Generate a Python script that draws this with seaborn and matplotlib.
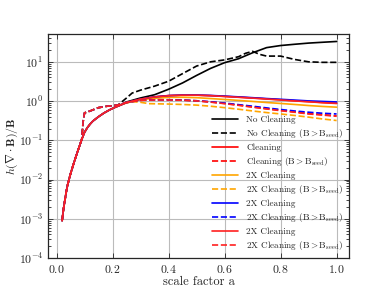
import numpy as np
import pandas as pd
import seaborn as sns
import matplotlib
matplotlib.use('Agg')
import matplotlib.pyplot as plt
from matplotlib.ticker import LogLocator, NullFormatter

# shared early growth (all runs identical before the seed cut)
a_early = [0.02, 0.025, 0.03, 0.035, 0.04, 0.05, 0.06, 0.07, 0.08, 0.09]
h_early = [9e-4, 1.8e-3, 3e-3, 5e-3, 7.5e-3, 0.014, 0.024, 0.04, 0.065, 0.105]

a_mid_solid = [0.1, 0.11, 0.12, 0.13, 0.15, 0.17, 0.19, 0.21, 0.23]
h_mid_solid = [0.16, 0.21, 0.26, 0.31, 0.4, 0.5, 0.6, 0.7, 0.8]

a_mid_dash = [0.095, 0.1, 0.12, 0.15, 0.18, 0.2, 0.22]
h_mid_dash = [0.3, 0.5, 0.56, 0.68, 0.74, 0.76, 0.8]

a_late = [0.25, 0.3, 0.35, 0.4, 0.45, 0.5, 0.55, 0.6, 0.65, 0.7, 0.75, 0.8,
          0.85, 0.9, 0.95, 1.0]
no_clean = [0.95, 1.2, 1.45, 2.0, 2.9, 4.5, 6.8, 9.5, 12, 17, 23, 26, 28, 30,
            31.5, 33]
clean = [0.92, 1.12, 1.28, 1.38, 1.42, 1.42, 1.38, 1.32, 1.26, 1.2, 1.14,
         1.08, 1.02, 0.97, 0.92, 0.88]
clean_seed = [0.92, 1.05, 1.08, 1.08, 1.06, 1.02, 0.95, 0.87, 0.79, 0.71,
              0.64, 0.58, 0.53, 0.48, 0.45, 0.42]
x2_orange = [0.9, 1.08, 1.18, 1.24, 1.25, 1.22, 1.16, 1.1, 1.04, 0.98, 0.92,
             0.87, 0.82, 0.77, 0.73, 0.7]
x2_blue = [0.92, 1.12, 1.28, 1.38, 1.42, 1.42, 1.39, 1.34, 1.28, 1.22, 1.16,
           1.11, 1.06, 1.01, 0.98, 0.95]
x2_red = [0.92, 1.12, 1.27, 1.37, 1.41, 1.41, 1.37, 1.31, 1.25, 1.19, 1.13,
          1.07, 1.01, 0.96, 0.91, 0.87]
x2_blue_seed = [0.92, 1.05, 1.08, 1.08, 1.06, 1.02, 0.96, 0.89, 0.81, 0.74,
                0.67, 0.61, 0.56, 0.52, 0.49, 0.47]
x2_red_seed = [0.92, 1.04, 1.07, 1.07, 1.05, 1.01, 0.94, 0.86, 0.78, 0.7,
               0.63, 0.57, 0.52, 0.47, 0.44, 0.41]

a_orange_seed = [0.25, 0.27, 0.3, 0.33, 0.4, 0.45, 0.5, 0.55, 0.6, 0.65, 0.7,
                 0.75, 0.8, 0.85, 0.9, 0.95, 1.0]
x2_orange_seed = [0.9, 0.97, 0.93, 0.86, 0.84, 0.82, 0.79, 0.74, 0.68, 0.62,
                  0.56, 0.51, 0.47, 0.43, 0.39, 0.35, 0.32]

a_black_seed = [0.25, 0.27, 0.3, 0.35, 0.4, 0.45, 0.5, 0.55, 0.6, 0.65,
                0.675, 0.7, 0.725, 0.75, 0.8, 0.85, 0.9, 0.95, 1.0]
no_clean_seed = [1.2, 1.6, 1.9, 2.4, 3.2, 5.0, 7.8, 10.0, 11.2, 13.5, 16.5,
                 18.5, 15.5, 14, 14, 11.5, 10, 9.7, 9.7]

seed = r'(B${>}$B$_{\rm seed}$)'
series = [
    ('No Cleaning', 'black', '-', a_late, no_clean),
    ('No Cleaning ' + seed, 'black', '--', a_black_seed, no_clean_seed),
    ('Cleaning', 'red', '-', a_late, clean),
    ('Cleaning ' + seed, 'red', '--', a_late, clean_seed),
    ('2X Cleaning', 'orange', '-', a_late, x2_orange),
    ('2X Cleaning ' + seed, 'orange', '--', a_orange_seed, x2_orange_seed),
    ('2X Cleaning', 'blue', '-', a_late, x2_blue),
    ('2X Cleaning ' + seed, 'blue', '--', a_late, x2_blue_seed),
    ('2X Cleaning', '#ff2020', '-', a_late, x2_red),
    ('2X Cleaning ' + seed, '#ff2020', '--', a_late, x2_red_seed),
]

sns.set_style('ticks')
plt.rcParams['font.family'] = 'serif'
plt.rcParams['font.serif'] = ['cmr10', 'DejaVu Serif']
plt.rcParams['mathtext.fontset'] = 'cm'
plt.rcParams['axes.formatter.use_mathtext'] = True

fig = plt.figure(figsize=(3.88, 2.91), dpi=100)
ax = fig.add_axes([0.124, 0.113, 0.776, 0.77])

for label, color, ls, a_tail, h_tail in series:
    if ls == '-':
        xs = a_early + a_mid_solid + a_tail
        ys = h_early + h_mid_solid + h_tail
    else:
        xs = a_early + a_mid_dash + a_tail
        ys = h_early + h_mid_dash + h_tail
    df = pd.DataFrame({'a': xs, 'h': ys})
    sns.lineplot(data=df, x='a', y='h', ax=ax, color=color, linestyle=ls,
                 lw=1.2, label=label, sort=False, estimator=None)

ax.set_yscale('log')
ax.set_ylim(1e-4, 51)
ax.set_xlim(-0.03, 1.045)
ax.set_xticks([0.0, 0.2, 0.4, 0.6, 0.8, 1.0])
ax.yaxis.set_major_locator(LogLocator(base=10, numticks=10))
ax.yaxis.set_minor_locator(LogLocator(base=10, subs=np.arange(2, 10), numticks=20))
ax.yaxis.set_minor_formatter(NullFormatter())
ax.grid(True, which='major', color='#bbbbbb', lw=0.8)
ax.tick_params(which='both', direction='in', top=True, right=True,
               labelsize=8.5, width=0.6)
ax.tick_params(which='major', length=3.5)
ax.tick_params(which='minor', length=2)
for s in ax.spines.values():
    s.set_linewidth(0.9)

ax.set_xlabel('scale factor a', fontsize=9, labelpad=1)
ax.set_ylabel(r'$h(\nabla\cdot\mathbf{B})/\mathbf{B}$', fontsize=8.5)
ax.yaxis.set_label_coords(-0.095, 0.5)

ax.legend(loc='lower right', frameon=False, fontsize=6.6, handlelength=2.8,
          labelspacing=0.36, borderaxespad=0.25, handletextpad=0.9)

fig.savefig('out.png', dpi=100)
